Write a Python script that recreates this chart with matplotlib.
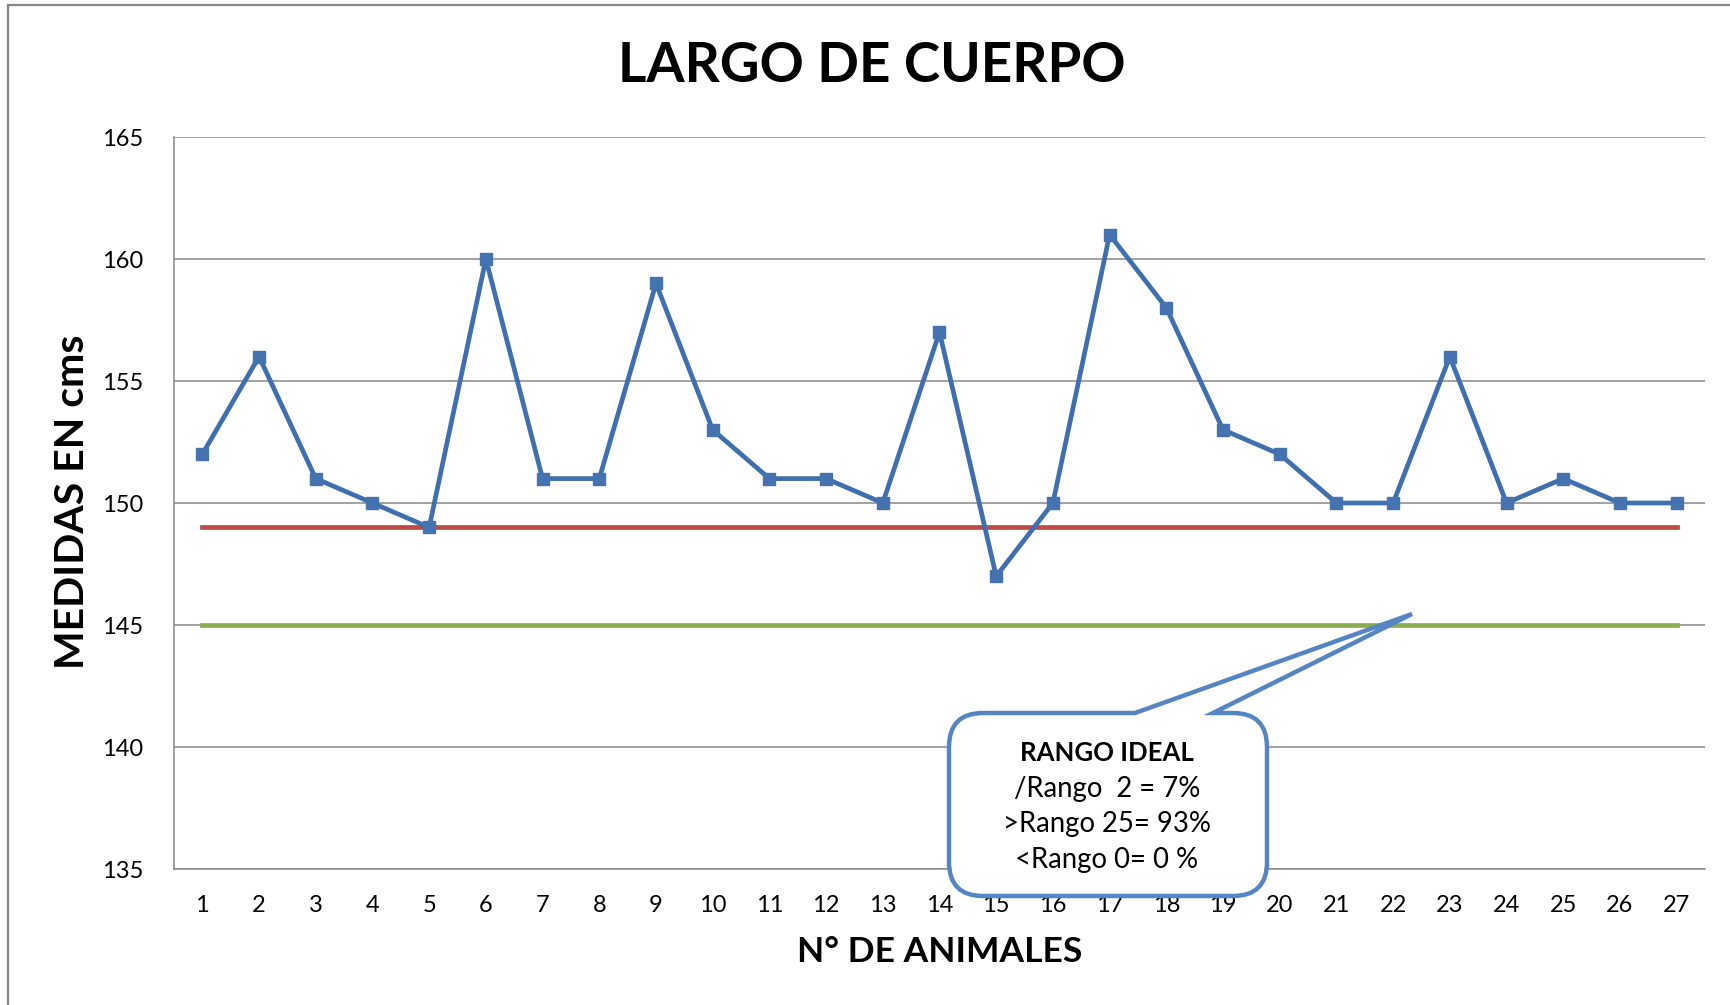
import matplotlib
matplotlib.use("Agg")
import matplotlib.pyplot as plt
from matplotlib.path import Path
from matplotlib.patches import PathPatch, Rectangle

# ---- data ----
animales = list(range(1, 28))
medidas = [152, 156, 151, 150, 149, 160, 151, 151, 159, 153, 151, 151, 150, 157,
           147, 150, 161, 158, 153, 152, 150, 150, 156, 150, 151, 150, 150]
limite_rojo = [149] * 27
limite_verde = [145] * 27
y_ticks = [135, 140, 145, 150, 155, 160, 165]
titulo = "LARGO DE CUERPO"
x_titulo = "N° DE ANIMALES"
y_titulo = "MEDIDAS EN cms"
callout_lines = ["RANGO IDEAL", "/Rango  2 = 7%", ">Rango 25= 93%", "<Rango 0= 0 %"]

W, H = 1731, 1005
plt.rcParams['font.family'] = ['Lato', 'DejaVu Sans']
fig = plt.figure(figsize=(W / 100, H / 100), dpi=100)

def fx(x):
    return x / W

def fy(y):
    return 1 - y / H

ax = fig.add_axes([fx(174), fy(869), fx(1705) - fx(174), fy(137) - fy(869)])

blue = "#3F6FAE"
ax.plot(animales, limite_rojo, color="#BE4B48", lw=3.4, zorder=3)
ax.plot(animales, limite_verde, color="#8AAE4F", lw=3.4, zorder=3)
ax.plot(animales, medidas, color=blue, lw=3.4, marker="s", markersize=9,
        markerfacecolor="#4473B0", markeredgecolor="#4473B0", zorder=4)

ax.set_xlim(0.5, 27.5)
ax.set_ylim(135, 165)
ax.set_yticks(y_ticks)
ax.set_xticks(animales)
ax.set_xticklabels([str(a) for a in animales])
ax.grid(axis="y", color="#878787", lw=1.1)
ax.set_axisbelow(True)
for s in ["top", "right"]:
    ax.spines[s].set_visible(False)
for s in ["left", "bottom"]:
    ax.spines[s].set_color("#878787")
    ax.spines[s].set_linewidth(1.1)
ax.tick_params(axis="both", length=0, labelsize=17, colors="black")
ax.tick_params(axis="x", pad=19)
ax.tick_params(axis="y", pad=22)

fig.text(fx(872), fy(66), titulo, ha="center", va="center", fontsize=39.5, fontweight="bold")
fig.text(fx(940), fy(952), x_titulo, ha="center", va="center", fontsize=25.5, fontweight="bold")
fig.text(fx(73), fy(502), y_titulo, ha="center", va="center", fontsize=29.5, fontweight="bold",
         rotation=90)

# outer frame
fig.patches.append(Rectangle((fx(8), -0.1), 1.2, fy(5) + 0.1, transform=fig.transFigure,
                             fill=False, edgecolor="#878787", lw=1.6, zorder=0))

# callout
L, R, T, B = 949, 1267, 713, 896
r = 34
b1, b2 = 1135, 1213
tip = (1412, 614)
pts = [
    ((b1, T), Path.MOVETO),
    (tip, Path.LINETO),
    ((b2, T), Path.LINETO),
    ((R - r, T), Path.LINETO),
    ((R, T), Path.CURVE3), ((R, T + r), Path.CURVE3),
    ((R, B - r), Path.LINETO),
    ((R, B), Path.CURVE3), ((R - r, B), Path.CURVE3),
    ((L + r, B), Path.LINETO),
    ((L, B), Path.CURVE3), ((L, B - r), Path.CURVE3),
    ((L, T + r), Path.LINETO),
    ((L, T), Path.CURVE3), ((L + r, T), Path.CURVE3),
    ((b1, T), Path.CLOSEPOLY),
]
verts = [(fx(p[0]), fy(p[1])) for p, _ in pts]
codes = [c for _, c in pts]
fig.patches.append(PathPatch(Path(verts, codes), transform=fig.transFigure,
                             facecolor="white", edgecolor="#5585C2", lw=3.2, zorder=5))
cx = 1107
ys = [753, 789, 824, 860]
for i, (t, yy) in enumerate(zip(callout_lines, ys)):
    fig.text(fx(cx), fy(yy), t, ha="center", va="center",
             fontsize=18.5 if i == 0 else 19.8,
             fontweight="bold" if i == 0 else "normal", zorder=6)

fig.savefig("out.png", dpi=100)
